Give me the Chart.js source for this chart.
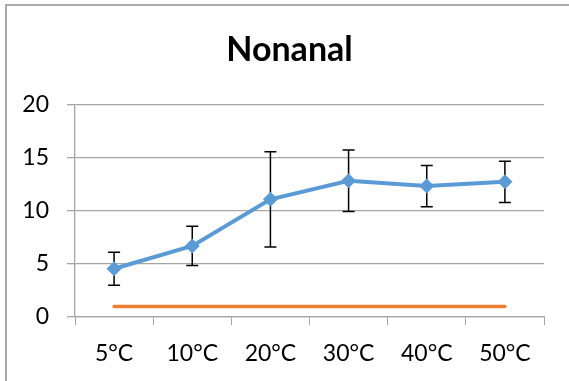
<!DOCTYPE html>
<html>
<head>
<meta charset="utf-8">
<script src="https://cdn.jsdelivr.net/npm/chart.js@4.4.0/dist/chart.umd.min.js"></script>
<style>
    html, body { margin: 0; padding: 0; background: #fff; overflow: hidden; }
    #wrap { position: relative; width: 569px; height: 381px; }
    #frame {
        position: absolute; left: 5px; top: 4px; width: 620px; height: 420px;
        border: 2px solid #a9a9a9; box-sizing: border-box; pointer-events: none;
    }
</style>
</head>
<body>
<div id="wrap">
    <canvas id="nonanalChart" width="569" height="381"></canvas>
    <div id="frame"></div>
</div>
<script>
    const temps = ["5°C", "10°C", "20°C", "30°C", "40°C", "50°C"];
    const nonanal = [4.55, 6.7, 11.1, 12.85, 12.35, 12.75];
    const nonanalErr = [1.55, 1.85, 4.5, 2.9, 1.95, 1.95];
    const baseline = [1, 1, 1, 1, 1, 1];
    const yTicks = [0, 5, 10, 15, 20];

    const FONT = "Lato";
    const GRID = "#a6a6a6";

    // whiskers for the first dataset, drawn under the line and markers
    const errorBars = {
        id: "errorBars",
        beforeDatasetsDraw(chart) {
            const ctx = chart.ctx;
            const meta = chart.getDatasetMeta(0);
            const y = chart.scales.y;
            ctx.save();
            ctx.strokeStyle = "#000";
            ctx.lineWidth = 1.5;
            meta.data.forEach((pt, i) => {
                let top = y.getPixelForValue(nonanal[i] + nonanalErr[i]);
                let bot = y.getPixelForValue(nonanal[i] - nonanalErr[i]);
                ctx.beginPath();
                ctx.moveTo(pt.x, top);
                ctx.lineTo(pt.x, bot);
                ctx.moveTo(pt.x - 6, top);
                ctx.lineTo(pt.x + 6, top);
                ctx.moveTo(pt.x - 6, bot);
                ctx.lineTo(pt.x + 6, bot);
                ctx.stroke();
            });
            ctx.restore();
        }
    };

    // heading sits a little right of the canvas middle, like the frame it belongs to
    const heading = {
        id: "heading",
        afterDraw(chart) {
            const ctx = chart.ctx;
            ctx.save();
            ctx.fillStyle = "#000";
            ctx.font = "bold 34px " + FONT;
            ctx.textAlign = "center";
            ctx.textBaseline = "middle";
            ctx.fillText("Nonanal", chart.width / 2 + 5, 50);
            ctx.restore();
        }
    };

    let ctx = document.getElementById("nonanalChart").getContext("2d");
    new Chart(ctx, {
        type: "line",
        data: {
            labels: temps,
            datasets: [{
                label: "Nonanal",
                data: nonanal,
                borderColor: "#5b9bd5",
                backgroundColor: "#5b9bd5",
                borderWidth: 4,
                pointStyle: "rectRot",
                pointRadius: 7.5,
                pointBorderWidth: 0,
                tension: 0
            }, {
                label: "Baseline",
                data: baseline,
                borderColor: "#ed7d31",
                borderWidth: 3.5,
                borderCapStyle: "round",
                pointRadius: 0,
                tension: 0
            }]
        },
        options: {
            responsive: false,
            animation: false,
            layout: { padding: { left: 0, right: 25, top: 105, bottom: 0 } },
            plugins: {
                legend: { display: false },
                tooltip: { enabled: false },
                title: { display: false }
            },
            scales: {
                x: {
                    offset: true,
                    grid: {
                        offset: true,
                        drawOnChartArea: false,
                        drawTicks: true,
                        tickLength: 8,
                        color: GRID
                    },
                    border: { display: true, color: GRID, width: 1.3 },
                    ticks: {
                        color: "#000",
                        padding: 15,
                        maxRotation: 0,
                        font: { family: FONT, size: 23 }
                    },
                    afterFit(scale) { scale.height = 64; }
                },
                y: {
                    min: 0,
                    max: 20,
                    afterBuildTicks(scale) { scale.ticks = yTicks.map(v => ({ value: v })); },
                    grid: { color: GRID, lineWidth: 1.3, tickLength: 8 },
                    border: { display: true, color: GRID, width: 1.3 },
                    ticks: {
                        color: "#000",
                        padding: 18,
                        font: { family: FONT, size: 23 }
                    },
                    afterFit(scale) { scale.width = 75; }
                }
            }
        },
        plugins: [errorBars, heading]
    });
</script>
</body>
</html>
